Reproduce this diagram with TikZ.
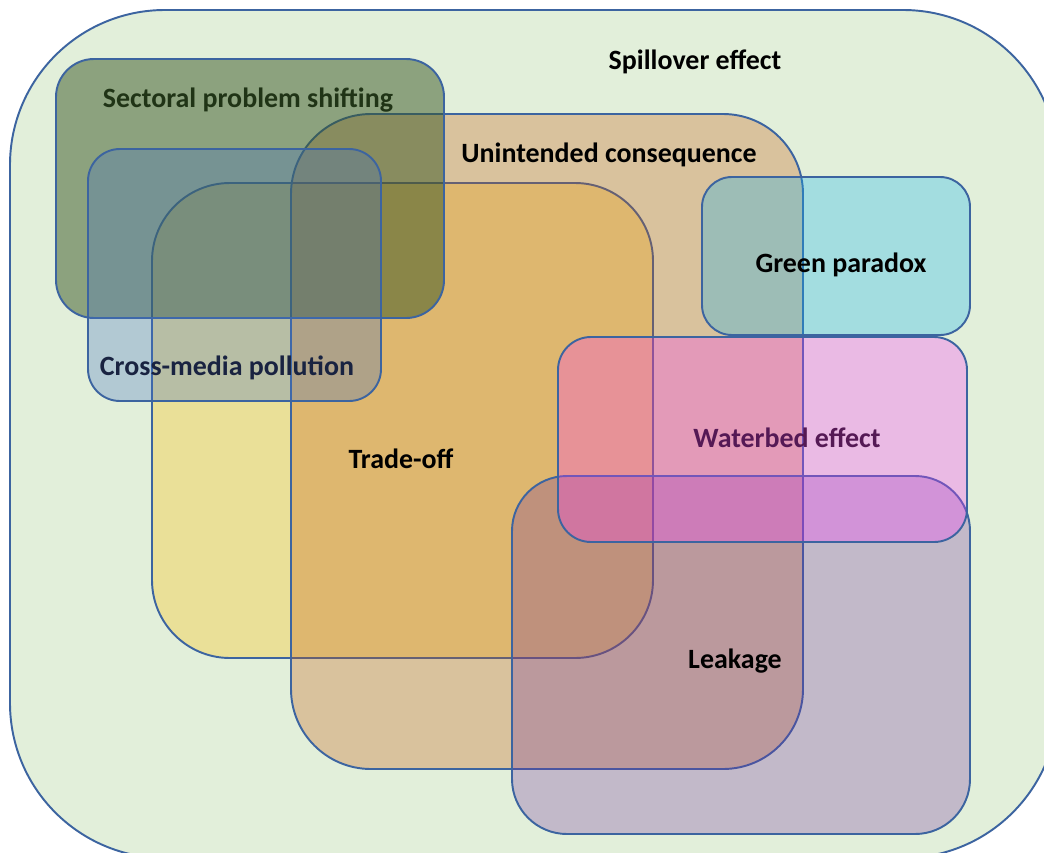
\documentclass[tikz,border=0pt]{standalone}
\usepackage{fontspec}
\setmainfont{Carlito}
\definecolor{outline}{RGB}{60,100,160}
\definecolor{spillfill}{RGB}{226,239,218}
\definecolor{tradeoff}{RGB}{255,192,0}
\definecolor{unintended}{RGB}{197,90,17}
\definecolor{sectoral}{RGB}{56,87,35}
\definecolor{crossmedia}{RGB}{68,114,196}
\definecolor{greenparadox}{RGB}{20,180,240}
\definecolor{leakage}{RGB}{112,48,160}
\definecolor{waterbed}{RGB}{255,51,255}
\definecolor{sectoraltext}{RGB}{32,52,22}
\definecolor{crossmediatext}{RGB}{25,35,65}
\definecolor{waterbedtext}{RGB}{85,25,85}

\begin{document}
\begin{tikzpicture}[x=0.02cm,y=-0.02cm,
    venn/.style={draw=outline,line width=1.1pt},
    setname/.style={font=\fontsize{15.9}{18}\selectfont\bfseries,anchor=mid,yshift=-0.1cm}]

\useasboundingbox (0,0) rectangle (1044,852);
\clip (0,0) rectangle (1044,852);
\fill[white] (0,0) rectangle (1044,852);

% Outer set
\draw[venn,fill=spillfill,rounded corners=3.1cm] (10,10) rectangle (1058,858);

% Inner sets, back to front
\draw[venn,fill=tradeoff,fill opacity=0.3,rounded corners=1.56cm] (152,183) rectangle (653,658);
\draw[venn,fill=unintended,fill opacity=0.3,rounded corners=1.6cm] (291,114) rectangle (803,769);
\draw[venn,fill=sectoral,fill opacity=0.5,rounded corners=0.76cm] (56,59) rectangle (444,318);
\draw[venn,fill=crossmedia,fill opacity=0.3,rounded corners=0.64cm] (88,149) rectangle (381,401);
\draw[venn,fill=greenparadox,fill opacity=0.3,rounded corners=0.6cm] (702,177) rectangle (970,335);
\draw[venn,fill=leakage,fill opacity=0.28,rounded corners=1.1cm] (512,476) rectangle (970,834);
\draw[venn,fill=waterbed,fill opacity=0.28,rounded corners=0.66cm] (558,337) rectangle (967,542);

% Set names
\node[setname] (spill) at (695,60) {Spillover effect};
\node[setname,sectoraltext] (shift) at (248,98) {Sectoral problem shifting};
\node[setname] (cons) at (609,153) {Unintended consequence};
\node[setname] (paradox) at (841,263) {Green paradox};
\node[setname,crossmediatext] (media) at (227,366) {Cross-media pollution};
\node[setname] (trade) at (401,459) {Trade-off};
\node[setname,waterbedtext] (bed) at (787,438) {Waterbed effect};
\node[setname] (leak) at (735,659) {Leakage};

\end{tikzpicture}
\end{document}
